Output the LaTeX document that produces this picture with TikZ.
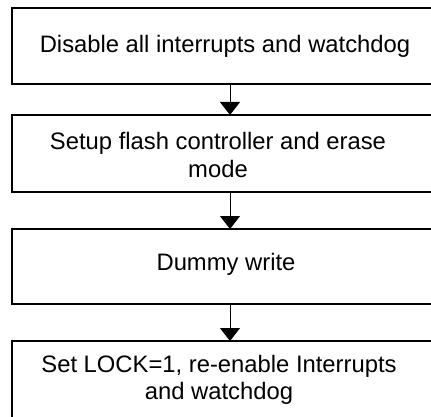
\documentclass[tikz,border=0pt]{standalone}
\usepackage{fontspec}
\setmainfont{Liberation Sans}
\usetikzlibrary{arrows.meta}
\tikzset{
  stepbox/.style={draw=black, line width=1.8pt, minimum width=436pt, inner sep=0pt, outer sep=0pt},
  txt/.style={font=\fontsize{23.8}{27.4}\selectfont, align=center, inner sep=0pt},
  arr/.style={line width=1pt, -{Triangle[width=20pt,length=13pt]}}
}
\begin{document}
\begin{tikzpicture}[x=1pt,y=-1pt]
\useasboundingbox[fill=white] (0,0) rectangle (431,417);
\node[stepbox, minimum height=76pt] (b1) at (230,46) {};
\node[stepbox, minimum height=77pt] (b2) at (230,153.5) {};
\node[stepbox, minimum height=75pt] (b3) at (230,266.5) {};
\node[stepbox, minimum height=80pt] (b4) at (230,381) {};
\node[txt] (t1) at (225,46) {Disable all interrupts and watchdog};
\node[txt] (t2) at (218,155) {Setup flash controller and erase\\mode};
\node[txt] (t3) at (226,264) {Dummy write};
\node[txt] (t4) at (219,380) {Set LOCK=1, re-enable Interrupts\\and watchdog};
\draw[arr] (b1.south) -- (b2.north);
\draw[arr] (b2.south) -- (b3.north);
\draw[arr] (b3.south) -- (b4.north);
\end{tikzpicture}
\end{document}
